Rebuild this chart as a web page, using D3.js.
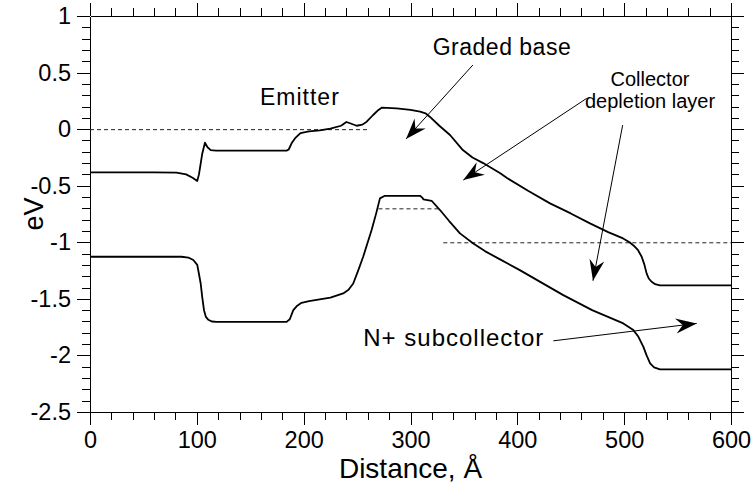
<!DOCTYPE html>
<html>
<head>
<meta charset="utf-8">
<script src="https://cdn.jsdelivr.net/npm/d3@7"></script>
<style>
  body { margin: 0; background: #fff; }
  svg { display: block; }
  text { font-family: "Liberation Sans", Arial, sans-serif; fill: #000; }
  .axis path, .axis line { stroke: #000; shape-rendering: crispEdges; }
  .axis text { font-size: 23.5px; }
</style>
</head>
<body>
<div id="chart"></div>
<script>
var width = 751, height = 489;
var margin = { top: 16, right: 20, bottom: 77, left: 90 };

// conduction band edge [distance, eV]
var conductionBand = [
  [0, -0.382], [60, -0.382], [81, -0.385], [90, -0.40], [96, -0.43], [100.4, -0.459],
  [102, -0.40], [105, -0.22], [107.6, -0.12], [110, -0.16], [113, -0.185], [118, -0.19],
  [184, -0.19], [186, -0.18], [189, -0.12], [192, -0.08], [197, -0.035], [205, -0.02],
  [215, -0.01], [225, 0.005], [235, 0.03], [240, 0.063], [244, 0.05], [249.6, 0.03],
  [255, 0.04], [259, 0.066], [265, 0.125], [270, 0.17], [273, 0.19], [287, 0.184],
  [300, 0.17], [309, 0.154], [314, 0.14], [318, 0.11], [327, 0.03], [337, -0.052],
  [349, -0.185], [358, -0.25], [368, -0.30], [384, -0.39], [390, -0.43], [410, -0.545],
  [430.6, -0.656], [450, -0.745], [468, -0.833], [485, -0.91], [499, -0.966], [505, -1.0],
  [509, -1.03], [513, -1.07], [516.4, -1.128], [519, -1.20], [521, -1.275], [523, -1.32],
  [525.7, -1.349], [529, -1.37], [533.5, -1.381], [600, -1.381]
];

// valence band edge [distance, eV]
var valenceBand = [
  [0, -1.128], [85.8, -1.128], [92, -1.135], [96.7, -1.157], [100.4, -1.20], [102, -1.28],
  [103.6, -1.364], [105, -1.48], [106.7, -1.60], [108.5, -1.66], [110.8, -1.685], [114, -1.70],
  [118.6, -1.703], [184, -1.703], [187, -1.68], [190.3, -1.60], [194, -1.56], [198, -1.535],
  [205, -1.52], [215, -1.505], [225, -1.49], [237, -1.452], [242, -1.42], [246.4, -1.364],
  [251, -1.25], [255.7, -1.128], [263.6, -0.892], [268, -0.74], [271.4, -0.612], [276, -0.589],
  [308.9, -0.589], [311, -0.605], [312, -0.62], [319.8, -0.633], [327.6, -0.715], [336, -0.81],
  [346.3, -0.921], [358.8, -1.01], [370, -1.08], [383.8, -1.151], [402.3, -1.246], [443, -1.467],
  [470, -1.6], [499.2, -1.717], [508.6, -1.776], [513, -1.83], [518, -1.924], [521, -2.0],
  [524.3, -2.07], [528, -2.105], [533.5, -2.124], [600, -2.124]
];

// dashed reference levels [x0, x1, eV]
var dashedLevels = [[0, 261.5, 0], [270, 327.6, -0.70], [330.7, 600, -1.0]];

// annotations [text, x, eV, anchor, font size, letter spacing]
var labels = [
  ['Graded base', 320.8, 0.655, 'start', 23, 0.5],
  ['Emitter', 159.1, 0.213, 'start', 23, 1],
  ['Collector', 524.2, 0.381, 'middle', 20, 0],
  ['depletion layer', 524.2, 0.187, 'middle', 20, 0],
  ['N+ subcollector', 255.8, -1.915, 'start', 24, 1]
];

// arrows [x0, eV0, x1, eV1] tip at the end
var arrows = [
  [358.4, 0.567, 295.8, -0.087],
  [464.9, 0.272, 349.4, -0.450],
  [498.6, 0.036, 470.8, -1.34],
  [433.7, -1.871, 567.9, -1.717]
];

var xTicks = [0, 100, 200, 300, 400, 500, 600];
var yTicks = [1, 0.5, 0, -0.5, -1, -1.5, -2, -2.5];

var svg = d3.select('#chart').append('svg')
  .attr('width', width)
  .attr('height', height);

var x = d3.scaleLinear().domain([0, 600]).range([margin.left, width - margin.right]);
var y = d3.scaleLinear().domain([-2.5, 1]).range([height - margin.bottom, margin.top]);

var xMinor = d3.range(0, 601, 20);
var yMinor = d3.range(-25, 11, 1).map(d => d / 10);

function drawAxis(axisFn, scale, minor, major, transform, labelled) {
  svg.append('g')
    .attr('class', 'axis')
    .attr('transform', transform)
    .call(axisFn(scale).tickValues(minor).tickSize(8).tickFormat(''))
    .select('.domain').remove();
  svg.append('g')
    .attr('class', 'axis')
    .attr('transform', transform)
    .call(axisFn(scale).tickValues(major).tickSize(13).tickSizeOuter(0).tickPadding(6)
      .tickFormat(labelled ? (d => String(d)) : ''));
}

drawAxis(d3.axisBottom, x, xMinor, xTicks, `translate(0,${y(-2.5)})`, true);
drawAxis(d3.axisTop, x, xMinor, xTicks, `translate(0,${y(1)})`, false);
drawAxis(d3.axisLeft, y, yMinor, yTicks, `translate(${x(0)},0)`, true);
drawAxis(d3.axisRight, y, yMinor, yTicks, `translate(${x(600)},0)`, false);

// axis titles
svg.append('text')
  .attr('x', (x(0) + x(600)) / 2)
  .attr('y', 478)
  .attr('text-anchor', 'middle')
  .style('font-size', '28px')
  .text('Distance, Å');

svg.append('text')
  .attr('transform', `translate(43,${(y(1) + y(-2.5)) / 2}) rotate(-90)`)
  .attr('text-anchor', 'middle')
  .style('font-size', '27px')
  .text('eV');

// dashed levels
svg.selectAll('line.level')
  .data(dashedLevels)
  .enter()
  .append('line')
  .attr('class', 'level')
  .attr('x1', d => x(d[0]))
  .attr('x2', d => x(d[1]))
  .attr('y1', d => y(d[2]) + 0.5)
  .attr('y2', d => y(d[2]) + 0.5)
  .attr('stroke', '#222')
  .attr('stroke-width', 1)
  .attr('stroke-dasharray', '4,3');

// band edges
var line = d3.line().x(d => x(d[0])).y(d => y(d[1]));
[conductionBand, valenceBand].forEach(band => {
  svg.append('path')
    .datum(band)
    .attr('d', line)
    .attr('fill', 'none')
    .attr('stroke', '#000')
    .attr('stroke-width', 1.8)
    .attr('stroke-linejoin', 'round');
});

// arrows
svg.append('defs').append('marker')
  .attr('id', 'head')
  .attr('viewBox', '-22 -8 24 16')
  .attr('refX', 0)
  .attr('refY', 0)
  .attr('markerUnits', 'userSpaceOnUse')
  .attr('markerWidth', 24)
  .attr('markerHeight', 16)
  .attr('orient', 'auto')
  .append('path')
  .attr('d', 'M0,0 L-21,-7.5 L-14,0 L-21,7.5 Z')
  .attr('fill', '#000');

svg.selectAll('line.arrow')
  .data(arrows)
  .enter()
  .append('line')
  .attr('class', 'arrow')
  .attr('x1', d => x(d[0]))
  .attr('y1', d => y(d[1]))
  .attr('x2', d => x(d[2]))
  .attr('y2', d => y(d[3]))
  .attr('stroke', '#000')
  .attr('stroke-width', 1)
  .attr('marker-end', 'url(#head)');

// annotation text
svg.selectAll('text.note')
  .data(labels)
  .enter()
  .append('text')
  .attr('class', 'note')
  .attr('x', d => x(d[1]))
  .attr('y', d => y(d[2]))
  .attr('text-anchor', d => d[3])
  .style('font-size', d => d[4] + 'px')
  .style('letter-spacing', d => d[5] + 'px')
  .text(d => d[0]);
</script>
</body>
</html>
